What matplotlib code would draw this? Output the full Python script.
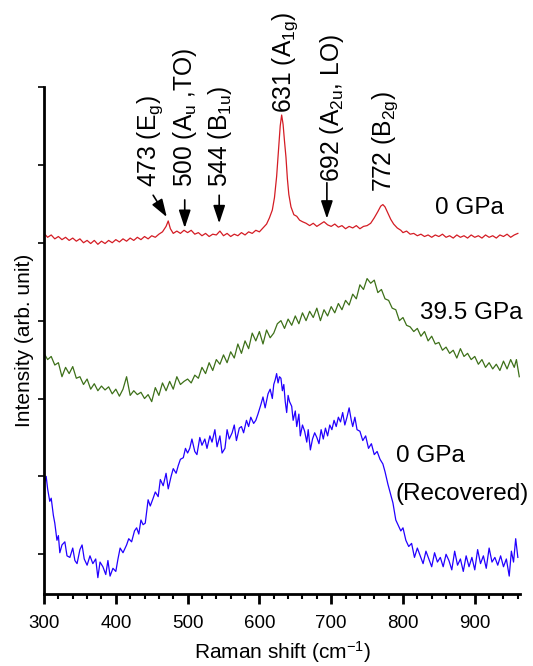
import numpy as np
import matplotlib
matplotlib.use("Agg")
import matplotlib.pyplot as plt
from matplotlib.ticker import MultipleLocator

plt.rcParams['font.family'] = ['Liberation Sans', 'DejaVu Sans']
plt.rcParams['mathtext.fontset'] = 'custom'
plt.rcParams['mathtext.rm'] = 'Liberation Sans'
plt.rcParams['mathtext.it'] = 'Liberation Sans'

# 0 GPa spectrum (offset already included)
x_0gpa = [300, 305, 310, 315, 320, 325, 330, 335, 340, 345, 350, 355, 360, 365, 370, 375,
          380, 385, 390, 395, 400, 405, 410, 415, 420, 425, 430, 435, 440, 445, 450, 455,
          460, 465, 470, 473, 476, 480, 485, 490, 495, 500, 505, 510, 515, 520, 525, 530,
          535, 540, 545, 550, 555, 560, 565, 570, 575, 580, 585, 590, 595, 600, 605, 610,
          614, 618, 621, 624, 627, 629, 631, 633, 635, 637, 639, 641, 644, 648, 652, 656,
          660, 665, 670, 675, 680, 685, 690, 695, 700, 705, 710, 715, 720, 725, 730, 735,
          740, 745, 750, 755, 760, 765, 769, 772, 775, 779, 783, 787, 792, 797, 800, 805,
          810, 815, 820, 825, 830, 835, 840, 845, 850, 855, 860, 865, 870, 875, 880, 885,
          890, 895, 900, 905, 910, 915, 920, 925, 930, 935, 940, 945, 950, 955, 960]
y_0gpa = [412, 407, 410, 405, 408, 404, 407, 403, 406, 402, 405, 400, 403, 399, 403, 398,
          402, 399, 403, 400, 404, 401, 405, 402, 406, 403, 407, 404, 408, 405, 409, 407,
          411, 414, 421, 428, 418, 412, 415, 412, 416, 413, 416, 411, 413, 409, 412, 408,
          411, 410, 415, 409, 412, 408, 411, 409, 413, 410, 414, 412, 416, 414, 419, 424,
          432, 442, 458, 485, 525, 550, 564, 552, 530, 510, 482, 462, 446, 436, 434, 429,
          427, 425, 422, 425, 421, 424, 427, 423, 421, 424, 420, 422, 418, 421, 419, 422,
          418, 421, 422, 425, 432, 440, 447, 449, 446, 438, 430, 424, 419, 416, 413, 415,
          411, 412, 409, 411, 408, 410, 407, 410, 408, 411, 407, 409, 406, 410, 407, 409,
          406, 410, 407, 409, 406, 410, 407, 409, 406, 410, 408, 411, 407, 410, 412]

# 39.5 GPa spectrum
x_395gpa = [300, 305, 310, 315, 320, 325, 330, 335, 340, 345, 350, 355, 360, 365, 370, 375,
            380, 385, 390, 395, 400, 405, 410, 415, 420, 425, 430, 435, 440, 445, 450, 455,
            460, 465, 470, 475, 480, 485, 490, 495, 500, 505, 510, 515, 520, 525, 530, 535,
            540, 545, 550, 555, 560, 565, 570, 575, 580, 585, 590, 595, 600, 605, 610, 615,
            620, 625, 630, 635, 640, 645, 650, 655, 660, 665, 670, 675, 680, 685, 690, 695,
            700, 705, 710, 715, 720, 725, 730, 735, 740, 745, 750, 755, 760, 765, 770, 775,
            780, 785, 790, 795, 800, 805, 810, 815, 820, 825, 830, 835, 840, 845, 850, 855,
            860, 865, 870, 875, 880, 885, 890, 895, 900, 905, 910, 915, 920, 925, 930, 935,
            940, 945, 950, 955, 958, 962]
y_395gpa = [258, 250, 254, 243, 246, 228, 240, 232, 241, 226, 228, 218, 225, 212, 219, 210,
            216, 211, 215, 206, 212, 203, 212, 228, 204, 210, 205, 208, 200, 205, 196, 214,
            204, 220, 210, 222, 212, 228, 218, 222, 225, 220, 230, 226, 240, 232, 246, 236,
            250, 244, 256, 246, 260, 252, 270, 258, 274, 264, 284, 274, 286, 270, 288, 278,
            284, 296, 300, 290, 302, 294, 306, 296, 310, 300, 312, 304, 316, 300, 314, 306,
            318, 310, 322, 314, 326, 320, 334, 328, 346, 340, 354, 348, 352, 336, 340, 328,
            326, 316, 314, 300, 304, 294, 292, 286, 290, 280, 286, 274, 280, 270, 272, 262,
            266, 258, 262, 252, 264, 254, 258, 250, 254, 244, 250, 240, 246, 238, 244, 236,
            248, 238, 250, 240, 250, 228]

# 0 GPa (recovered) spectrum
x_rec = [300, 303, 305, 308, 310, 313, 315, 318, 320, 322, 325, 329, 332, 336, 340, 343,
         346, 350, 353, 356, 360, 364, 368, 372, 375, 378, 382, 386, 389, 392, 396, 400,
         403, 406, 410, 415, 418, 422, 426, 429, 432, 435, 438, 441, 445, 448, 452, 455,
         459, 462, 466, 470, 473, 477, 480, 484, 487, 490, 494, 497, 500, 503, 506, 510,
         513, 517, 520, 524, 527, 531, 534, 538, 541, 545, 548, 552, 555, 558, 562, 565,
         568, 572, 575, 578, 582, 585, 588, 592, 595, 598, 602, 605, 608, 612, 615, 618,
         620, 622, 624, 626, 628, 630, 632, 634, 636, 638, 640, 642, 645, 647, 650, 652,
         655, 657, 660, 663, 666, 668, 671, 674, 677, 680, 683, 686, 689, 692, 695, 698,
         701, 704, 707, 710, 713, 716, 719, 722, 725, 728, 730, 733, 736, 740, 744, 748,
         752, 756, 760, 764, 768, 772, 775, 779, 783, 786, 790, 793, 797, 800, 804, 808,
         812, 816, 820, 824, 828, 832, 836, 840, 844, 848, 852, 856, 860, 864, 868, 872,
         876, 880, 884, 888, 892, 896, 900, 904, 908, 912, 916, 920, 924, 928, 932, 936,
         940, 944, 948, 951, 954, 957, 960]
y_rec = [90, 100, 84, 68, 72, 50, 40, 18, 24, 2, 12, 16, -2, -4, 8, -8,
         -12, 6, 12, -6, -14, -2, -12, -6, -30, -10, -16, -26, -8, -28, -18, -22,
         -6, 8, 2, 12, 20, 16, 30, 34, 26, 44, 38, 40, 70, 62, 72, 80,
         74, 96, 88, 104, 84, 100, 110, 104, 114, 122, 124, 136, 130, 136, 148, 132,
         128, 150, 140, 148, 136, 152, 144, 160, 138, 152, 130, 136, 160, 148, 156, 166,
         146, 162, 164, 156, 172, 164, 176, 168, 172, 180, 192, 202, 188, 206, 212, 200,
         218, 224, 232, 220, 228, 226, 210, 218, 196, 182, 204, 196, 190, 172, 184, 164,
         180, 152, 166, 158, 144, 160, 134, 148, 156, 150, 142, 160, 148, 162, 152, 166,
         160, 172, 164, 176, 170, 182, 166, 176, 188, 172, 164, 176, 160, 158, 146, 152,
         136, 142, 128, 132, 122, 116, 106, 90, 76, 66, 44, 38, 30, 34, 18, 10,
         14, -4, 8, -2, -12, 4, -6, -16, 2, -10, -4, -16, 0, -8, -20, 4,
         -14, -6, -22, -2, -16, -4, -20, 6, -12, -2, -18, 8, -10, -4, -14, -2,
         -16, -6, -28, 4, -10, 20, -4]

# peak labels, anchored at the baseline start of the rotated text
peak_labels = ["473 (E$_g$)", "500 (A$_u$ ,TO)", "544 (B$_{1u}$)", "631 (A$_{1g}$)",
               "692 (A$_{2u}$, LO)", "772 (B$_{2g}$)"]
peak_label_x = [456, 506, 555, 644, 711, 783]
peak_label_y = [472, 472, 472, 567, 478, 465]

# arrows: tail -> head
arrow_tail = [(452, 461), (496, 455), (544, 461), (694, 477)]
arrow_head = [(471, 433), (496, 419), (544, 425), (694, 431)]

series_labels = ["0 GPa", "39.5 GPa", "0 GPa", "(Recovered)"]
series_label_x = [845, 824, 790, 790]
series_label_y = [445, 310, 126, 77]

fig = plt.figure(figsize=(5.33, 6.66), dpi=100)
ax = fig.add_axes([0.0826, 0.1081, 0.893, 0.7613])

ax.plot(x_0gpa, y_0gpa, color='#d41c24', lw=0.9)
ax.plot(x_395gpa, y_395gpa, color='#3d7019', lw=0.9)
ax.plot(x_rec, y_rec, color='#2200ff', lw=0.9)

for t, tx, ty in zip(peak_labels, peak_label_x, peak_label_y):
    ax.text(tx, ty, t, rotation=90, rotation_mode='anchor', ha='left', va='baseline',
            fontsize=17.7)

for tail, head in zip(arrow_tail, arrow_head):
    ax.annotate('', xy=head, xytext=tail,
                arrowprops=dict(arrowstyle='-|>,head_length=0.6,head_width=0.2',
                                color='k', lw=1.2, mutation_scale=18,
                                shrinkA=0, shrinkB=0))

for t, tx, ty in zip(series_labels, series_label_x, series_label_y):
    ax.text(tx, ty, t, fontsize=17.5, va='center')

ax.set_xlim(300, 963)
ax.set_ylim(-51, 600)
ax.xaxis.set_major_locator(MultipleLocator(100))
ax.xaxis.set_minor_locator(MultipleLocator(20))
ax.set_yticks([0, 100, 200, 300, 400, 500, 600])
ax.set_yticklabels([])
ax.spines['top'].set_visible(False)
ax.spines['right'].set_visible(False)
ax.spines['left'].set_linewidth(2)
ax.spines['bottom'].set_linewidth(2)
ax.tick_params(axis='x', which='major', direction='out', length=7, width=2,
               labelsize=13.5, pad=8)
ax.tick_params(axis='x', which='minor', direction='out', length=3.6, width=1.5)
ax.tick_params(axis='y', which='major', direction='out', length=4, width=1.2)

ax.set_xlabel("Raman shift (cm$^{-1}$)", fontsize=15, labelpad=5)
ax.set_ylabel("Intensity (arb. unit)", fontsize=15, labelpad=0)

fig.savefig("out.png", dpi=100)
